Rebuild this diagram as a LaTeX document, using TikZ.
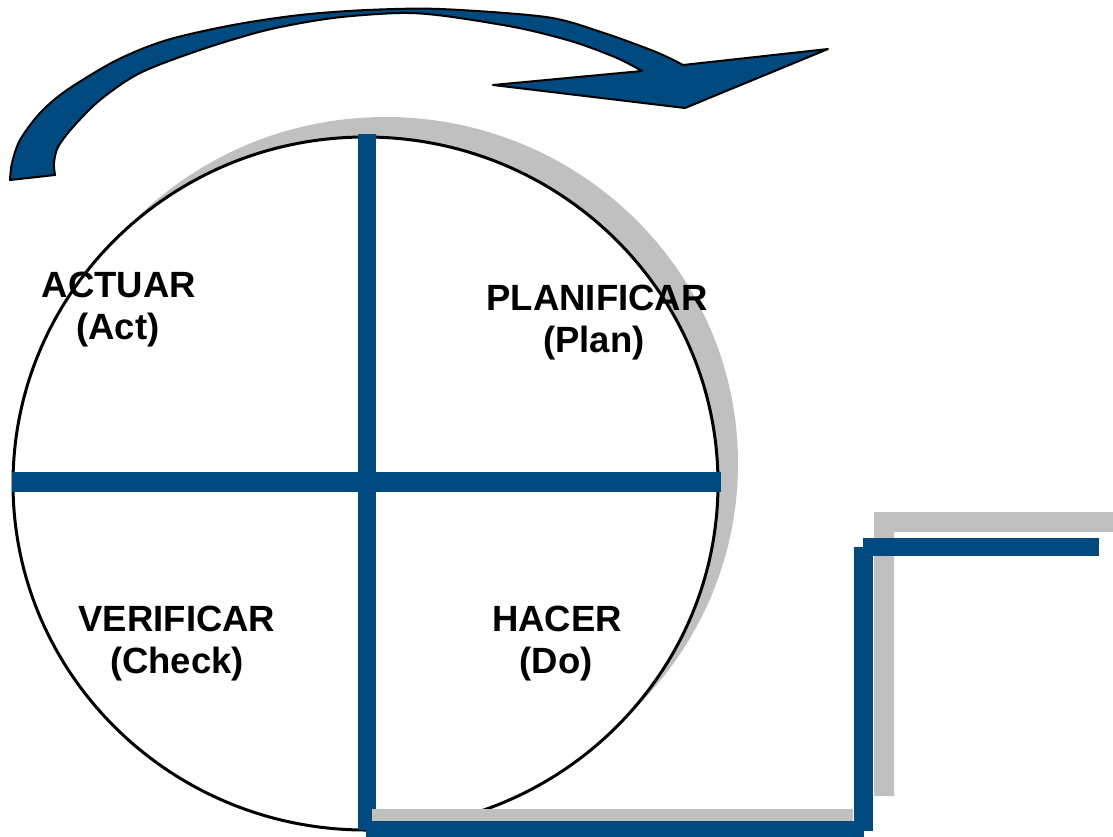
\documentclass[tikz,border=0pt]{standalone}
\usepackage{fontspec}
\setmainfont{Liberation Sans}
\definecolor{pdcablue}{RGB}{0,74,127}
\definecolor{shadowgray}{RGB}{192,192,192}
\tikzset{
  bar/.style={draw=pdcablue, line cap=butt},
  label/.style={anchor=base, inner sep=0pt, font=\fontsize{36.5}{42}\selectfont\bfseries},
  arrowribbon/.style={fill=pdcablue, draw=black, line width=2pt, line join=round},
}
\begin{document}
\begin{tikzpicture}[x=1pt, y=-1pt]
\useasboundingbox (0,0) rectangle (1113,836);

% shadow behind the wheel
\fill[shadowgray] (385.5,463.5) ellipse [x radius=352.5, y radius=346.5];
% the wheel
\filldraw[fill=white, draw=black, line width=3pt] (365.5,483.5) ellipse [x radius=352.5, y radius=346.5];

% cross dividing the four quadrants
\coordinate (wl) at (12,482);
\coordinate (wr) at (721,482);
\coordinate (wt) at (367,134);
\coordinate (wb) at (367,830);
\draw[bar, line width=20pt] (wl) -- (wr);
\draw[bar, line width=18pt] (wt) -- (wb);

% step shadow
\fill[shadowgray] (372,809) rectangle (853,822);
\fill[shadowgray] (874,512) -- (1113,512) -- (1113,532) -- (894,532) -- (894,796) -- (874,796) -- cycle;

% step
\coordinate (s1) at (366,829);
\coordinate (s2) at (864,829);
\coordinate (s3) at (863.5,831);
\coordinate (s4) at (863.5,547);
\coordinate (s5) at (863,547);
\coordinate (s6) at (1099,547);
\draw[bar, line width=17pt] (s1) -- (s2);
\draw[bar, line width=19pt] (s3) -- (s4);
\draw[bar, line width=18pt] (s5) -- (s6);

% curved arrow over the wheel
\filldraw[arrowribbon]
  plot[smooth] coordinates {(10,180) (12,163) (20,140) (40,113) (67,90) (117,60) (167,40) (233,25) (300,15) (367,10) (440,9) (546,17) (601,32) (656,52) (683,65)}
  -- (828,49) -- (685,108) -- (493,85) -- (642,71)
  -- plot[smooth] coordinates {(642,71) (617,58) (574,42) (519,28) (445,16) (400,13) (333,18) (267,30) (200,50) (140,73) (100,100) (73,127) (58,147) (54,163) (55,175)}
  -- cycle;

% quadrant labels
\node[label] (actA) at (119,297) {ACTUAR};
\node[label] (actB) at (118,339) {(Act)};
\node[label] (planA) at (597,310) {PLANIFICAR};
\node[label] (planB) at (594,352) {(Plan)};
\node[label] (chkA) at (177,631) {VERIFICAR};
\node[label] (chkB) at (177,673) {(Check)};
\node[label] (doA) at (557,631) {HACER};
\node[label] (doB) at (556,673) {(Do)};
\end{tikzpicture}
\end{document}
